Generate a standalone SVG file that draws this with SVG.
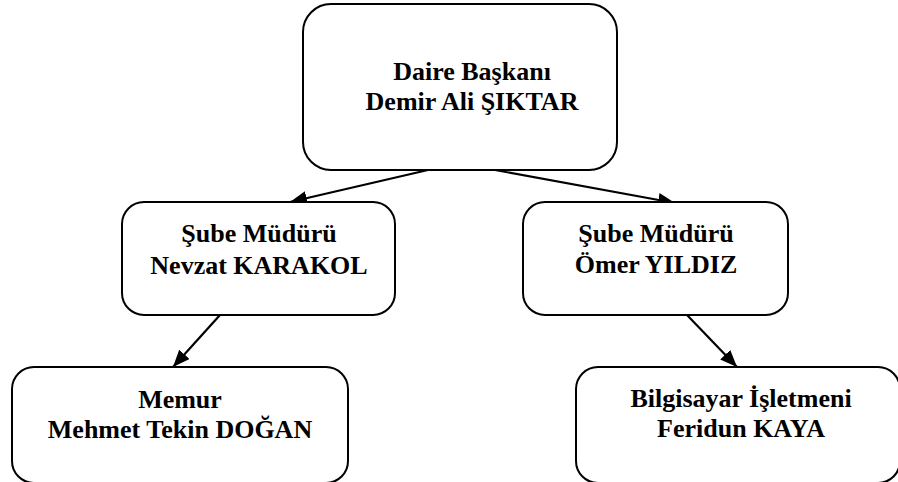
<svg xmlns="http://www.w3.org/2000/svg" width="898" height="482" viewBox="0 0 898 482">
  <style>
    .box { fill: #ffffff; stroke: #000000; stroke-width: 2; }
    .lbl { font-family: 'Liberation Serif', 'Times New Roman', Tinos, 'DejaVu Serif', serif; font-weight: 700; font-size: 26px; fill: #000000; text-anchor: middle; }
    .edge { stroke: #000000; stroke-width: 2.2; fill: none; }
  </style>
  <defs>
    <marker id="arr" markerUnits="userSpaceOnUse" markerWidth="18" markerHeight="14" viewBox="0 0 18 14" refX="17" refY="7" orient="auto">
      <path d="M0,0 L17,7 L0,14 Z" fill="#000000"/>
    </marker>
  </defs>
  <rect x="0" y="0" width="898" height="482" fill="#ffffff"/>
  <g id="connectors">
    <line class="edge" x1="428" y1="170" x2="290" y2="202" marker-end="url(#arr)"/>
    <line class="edge" x1="495" y1="170" x2="675" y2="203" marker-end="url(#arr)"/>
    <line class="edge" x1="220" y1="315" x2="173" y2="367" marker-end="url(#arr)"/>
    <line class="edge" x1="687" y1="315" x2="737" y2="367" marker-end="url(#arr)"/>
  </g>
  <g id="node-daire">
    <rect class="box" x="303" y="4" width="314" height="166" rx="28" ry="28"/>
    <text class="lbl" x="472" y="80" font-family="Liberation Serif, serif">Daire Başkanı</text>
    <text class="lbl" x="472" y="110" font-family="Liberation Serif, serif">Demir Ali ŞIKTAR</text>
  </g>
  <g id="node-sube1">
    <rect class="box" x="122" y="202" width="273" height="113" rx="22" ry="22"/>
    <text class="lbl" x="259" y="242">Şube Müdürü</text>
    <text class="lbl" x="259" y="274">Nevzat KARAKOL</text>
  </g>
  <g id="node-sube2">
    <rect class="box" x="523" y="202" width="265" height="113" rx="22" ry="22"/>
    <text class="lbl" x="656" y="242">Şube Müdürü</text>
    <text class="lbl" x="656" y="273">Ömer YILDIZ</text>
  </g>
  <g id="node-memur">
    <rect class="box" x="12" y="367" width="336" height="116" rx="22" ry="22"/>
    <text class="lbl" x="180" y="408">Memur</text>
    <text class="lbl" x="180" y="438">Mehmet Tekin DOĞAN</text>
  </g>
  <g id="node-bilgisayar">
    <rect class="box" x="576" y="367" width="324" height="116" rx="22" ry="22"/>
    <text class="lbl" x="741" y="407">Bilgisayar İşletmeni</text>
    <text class="lbl" x="741" y="437">Feridun KAYA</text>
  </g>
</svg>
